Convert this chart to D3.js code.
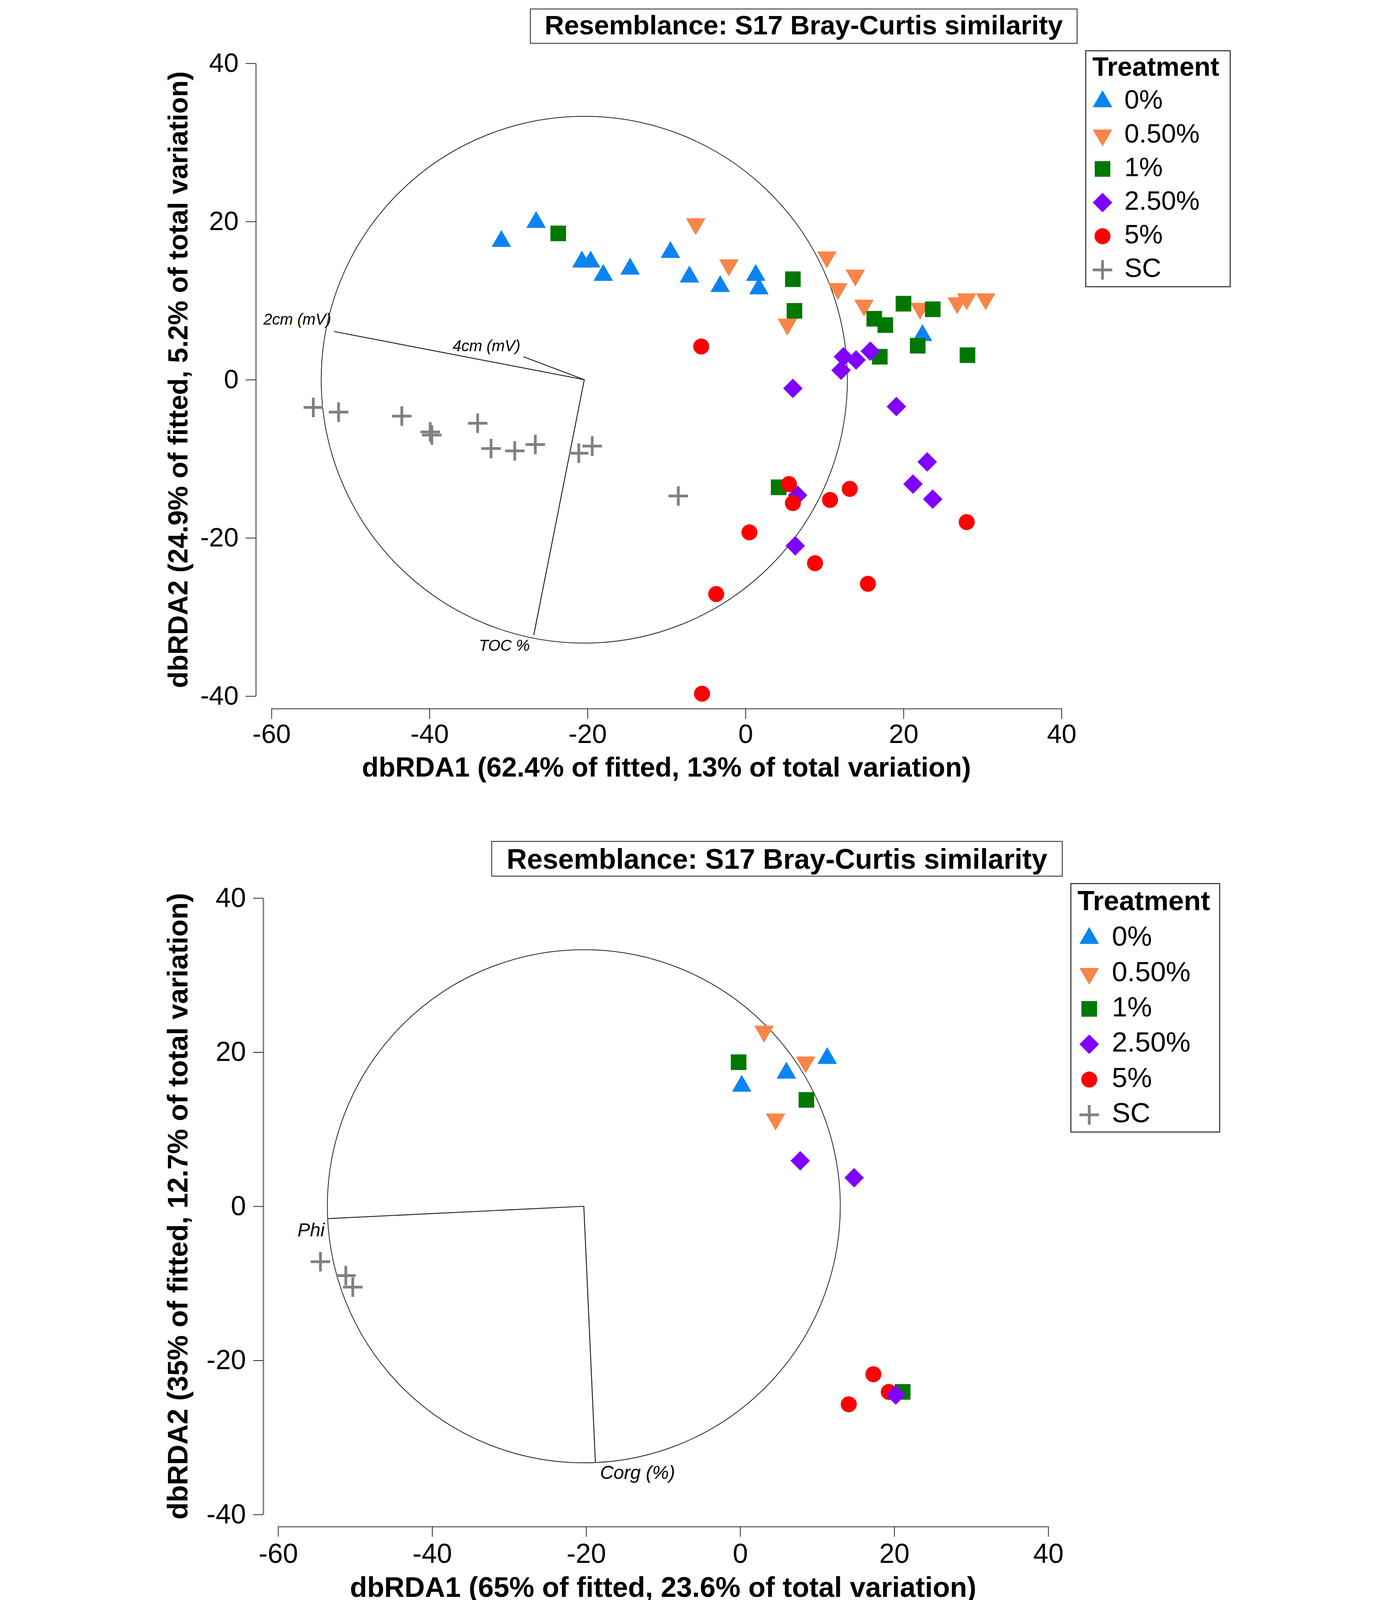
<!DOCTYPE html>
<html>
<head>
<meta charset="utf-8">
<script src="https://cdnjs.cloudflare.com/ajax/libs/d3/7.8.5/d3.min.js"></script>
<style>
body { margin: 0; background: #fff; }
svg { display: block; }
text { font-family: "Liberation Sans", Arial, sans-serif; }
</style>
</head>
<body>
<div id="chart"></div>
<script>
// treatments, in legend order
const groups = ["0%", "0.50%", "1%", "2.50%", "5%", "SC"]
const shapes = ["up", "down", "square", "diamond", "circle", "plus"]
const colors = ["#0b84f3", "#f98548", "#007800", "#7f00ff", "#ff0000", "#808080"]
const ticks = [-60, -40, -20, 0, 20, 40]
const yTicks = [-40, -20, 0, 20, 40]

// upper panel: [dbRDA1, dbRDA2]
const top0 = [[-30.9,17.5],[-26.5,19.9],[-20.7,14.9],[-19.6,14.9],[-18.0,13.2],[-14.6,14.0],[-9.5,16.1],[-7.1,13.0],[-3.2,11.8],[1.3,13.2],[1.7,11.5],[22.4,5.6]]
const top05 = [[-6.3,19.7],[-2.1,14.5],[10.3,15.5],[13.9,13.2],[11.7,11.5],[5.3,7.0],[15.0,9.4],[22.1,9.0],[26.8,9.7],[28.0,10.2],[30.4,10.2]]
const top1 = [[-23.7,18.5],[6.0,12.7],[6.2,8.7],[16.3,7.7],[17.7,6.9],[20.0,9.6],[23.7,8.9],[21.8,4.3],[17.0,2.9],[28.1,3.1],[4.2,-13.6]]
const top25 = [[12.4,2.9],[14.0,2.5],[15.8,3.6],[12.1,1.2],[6.0,-1.1],[19.1,-3.4],[23.0,-10.4],[21.2,-13.2],[23.7,-15.1],[6.6,-14.6],[6.3,-21.0]]
const top5 = [[-5.6,4.2],[5.5,-13.2],[6.0,-15.6],[10.7,-15.2],[13.2,-13.8],[28.0,-18.0],[0.5,-19.3],[8.8,-23.2],[15.5,-25.8],[-3.7,-27.1],[-5.5,-39.7]]
const topSC = [[-54.7,-3.5],[-51.5,-4.1],[-43.5,-4.6],[-39.9,-6.6],[-39.7,-7.0],[-33.9,-5.5],[-32.2,-8.7],[-29.2,-9.0],[-26.6,-8.2],[-21.1,-9.3],[-19.4,-8.4],[-8.5,-14.7]]
const topCircle = {cx: -20.4, cy: 0, r: 33.3}
const topVectors = [["2cm (mV)", -52.1, 6.1], ["4cm (mV)", -28.1, 2.9], ["TOC %", -26.8, -32.3]]

// lower panel
const bot0 = [[0.2,15.6],[6.0,17.3],[11.3,19.2]]
const bot05 = [[3.1,22.7],[8.5,18.7],[4.6,11.3]]
const bot1 = [[-0.2,18.7],[8.6,13.8],[21.1,-24.1]]
const bot25 = [[7.8,5.9],[14.8,3.7],[20.2,-24.5]]
const bot5 = [[17.3,-21.8],[19.3,-24.1],[14.1,-25.7]]
const botSC = [[-54.5,-7.2],[-51.2,-9.0],[-50.3,-10.5]]
const botCircle = {cx: -20.3, cy: 0, r: 33.3}
const botVectors = [["Phi", -53.5, -1.6], ["Corg (%)", -18.8, -33.2]]

const title = "Resemblance: S17 Bray-Curtis similarity"

let svg = d3.select("#chart").append("svg")
    .attr("width", 3554)
    .attr("height", 4135)

svg.append("rect").attr("width", 3554).attr("height", 4135).attr("fill", "#fff")

// marker outlines around a centre
let marker = (shape) => {
    switch (shape) {
        case "up": return "M0,-28.9L25,14.4L-25,14.4Z"
        case "down": return "M0,28.9L25,-14.4L-25,-14.4Z"
        case "square": return "M-20,-20H20V20H-20Z"
        case "diamond": return "M0,-25L25,0L0,25L-25,0Z"
        case "circle": return "M-20.5,0A20.5,20.5 0 1,0 20.5,0A20.5,20.5 0 1,0 -20.5,0Z"
        case "plus": return "M-25,0H25M0,-25V25"
    }
}
let drawMarker = (g, shape, color, px, py) => {
    let p = g.append("path")
        .attr("d", marker(shape))
        .attr("transform", `translate(${px},${py})`)
    if (shape === "plus") p.attr("fill", "none").attr("stroke", color).attr("stroke-width", 7)
    else p.attr("fill", color)
}

let panel = (cfg) => {
    let x = d3.scaleLinear().domain([-60, 40]).range(cfg.xRange),
        y = d3.scaleLinear().domain([-40, 40]).range(cfg.yRange),
        g = svg.append("g")

    // title box
    g.append("rect")
        .attr("x", cfg.titleBox[0]).attr("y", cfg.titleBox[1])
        .attr("width", cfg.titleBox[2]).attr("height", cfg.titleBox[3])
        .attr("fill", "none").attr("stroke", "#444").attr("stroke-width", 2.5)
    g.append("text")
        .attr("x", cfg.titleBox[0] + cfg.titleBox[2] / 2)
        .attr("y", cfg.titleBase)
        .attr("text-anchor", "middle")
        .attr("font-weight", "bold")
        .attr("font-size", cfg.titleSize)
        .text(title)

    // axes
    let ax = g.append("g")
        .attr("transform", `translate(0,${cfg.xAxisY})`)
        .call(d3.axisBottom(x).tickValues(ticks).tickFormat(d => String(d))
            .tickSize(26).tickSizeOuter(0).tickPadding(cfg.padX))
    let ay = g.append("g")
        .attr("transform", `translate(${cfg.yAxisX},0)`)
        .call(d3.axisLeft(y).tickValues(yTicks).tickFormat(d => String(d))
            .tickSize(26).tickSizeOuter(0).tickPadding(18))
    ;[ax, ay].forEach(a => {
        a.attr("font-size", cfg.tickSize).attr("font-family", "Liberation Sans, Arial, sans-serif")
        a.select(".domain").attr("stroke", "#7a7a7a").attr("stroke-width", 3.5)
        a.selectAll(".tick line").attr("stroke", "#222").attr("stroke-width", 2)
        a.selectAll(".tick text").attr("fill", "#000")
    })

    g.append("text")
        .attr("x", (cfg.xRange[0] + cfg.xRange[1]) / 2)
        .attr("y", cfg.xLabelBase)
        .attr("text-anchor", "middle")
        .attr("font-weight", "bold")
        .attr("font-size", cfg.labelSize)
        .text(cfg.xLabel)
    g.append("text")
        .attr("transform", `translate(${cfg.yLabelX},${(cfg.yRange[0] + cfg.yRange[1]) / 2}) rotate(-90)`)
        .attr("text-anchor", "middle")
        .attr("font-weight", "bold")
        .attr("font-size", cfg.labelSize)
        .text(cfg.yLabel)

    // vector overlay circle
    let c = cfg.circle
    g.append("ellipse")
        .attr("cx", x(c.cx)).attr("cy", y(c.cy))
        .attr("rx", x(c.cx + c.r) - x(c.cx))
        .attr("ry", y(c.cy - c.r) - y(c.cy))
        .attr("fill", "none").attr("stroke", "#222").attr("stroke-width", 2)
    cfg.vectors.forEach((v, i) => {
        g.append("line")
            .attr("x1", x(c.cx)).attr("y1", y(c.cy))
            .attr("x2", x(v[1])).attr("y2", y(v[2]))
            .attr("stroke", "#111").attr("stroke-width", 2.2)
        let off = cfg.vecLabel[i]
        g.append("text")
            .attr("x", x(v[1]) + off[0]).attr("y", y(v[2]) + off[1])
            .attr("text-anchor", off[2])
            .attr("font-style", "italic")
            .attr("font-size", cfg.vecSize)
            .text(v[0])
    })

    // points, drawn group by group in the panel's order
    cfg.order.forEach(i => {
        cfg.series[i].forEach(p => drawMarker(g, shapes[i], colors[i], x(p[0]), y(p[1])))
    })

    // legend
    let L = cfg.legend
    g.append("rect")
        .attr("x", L.box[0]).attr("y", L.box[1])
        .attr("width", L.box[2]).attr("height", L.box[3])
        .attr("fill", "#fff").attr("stroke", "#222").attr("stroke-width", 2.5)
    g.append("text")
        .attr("x", L.titleX).attr("y", L.titleBase)
        .attr("font-weight", "bold").attr("font-size", L.size)
        .text("Treatment")
    groups.forEach((name, i) => {
        let cy = L.row0 + i * L.step
        drawMarker(g, shapes[i], colors[i], L.symX, cy)
        g.append("text")
            .attr("x", L.textX).attr("y", cy + L.size * 0.27)
            .attr("font-size", L.size)
            .text(name)
    })
}

panel({
    xRange: [695, 2718], yRange: [1782, 162],
    xAxisY: 1814, yAxisX: 655, padX: 14, tickSize: 68,
    titleBox: [1358, 23, 1400, 88], titleBase: 88, titleSize: 69,
    xLabel: "dbRDA1 (62.4% of fitted, 13% of total variation)",
    yLabel: "dbRDA2 (24.9% of fitted, 5.2% of total variation)",
    xLabelBase: 1988, yLabelX: 480, labelSize: 70,
    circle: topCircle, vectors: topVectors, vecSize: 40,
    vecLabel: [[-7, -17, "end"], [-8, -14, "end"], [-10, 40, "end"]],
    series: [top0, top05, top1, top25, top5, topSC],
    order: [0, 1, 2, 3, 4, 5],
    legend: {box: [2780, 130, 370, 604], titleX: 2797, titleBase: 194, symX: 2823, textX: 2879,
             row0: 260, step: 86.2, size: 68}
})

panel({
    xRange: [712, 2684], yRange: [3877, 2299],
    xAxisY: 3908, yAxisX: 674, padX: 17, tickSize: 70,
    titleBox: [1259, 2154, 1461, 89], titleBase: 2224, titleSize: 72,
    xLabel: "dbRDA1 (65% of fitted, 23.6% of total variation)",
    yLabel: "dbRDA2 (35% of fitted, 12.7% of total variation)",
    xLabelBase: 4088, yLabelX: 480, labelSize: 72,
    circle: botCircle, vectors: botVectors, vecSize: 48,
    vecLabel: [[-9, 45, "end"], [12, 43, "start"]],
    series: [bot0, bot05, bot1, bot25, bot5, botSC],
    order: [0, 1, 2, 4, 3, 5],
    legend: {box: [2742, 2262, 381, 636], titleX: 2759, titleBase: 2330, symX: 2789, textX: 2847,
             row0: 2402, step: 90.4, size: 71}
})
</script>
</body>
</html>
